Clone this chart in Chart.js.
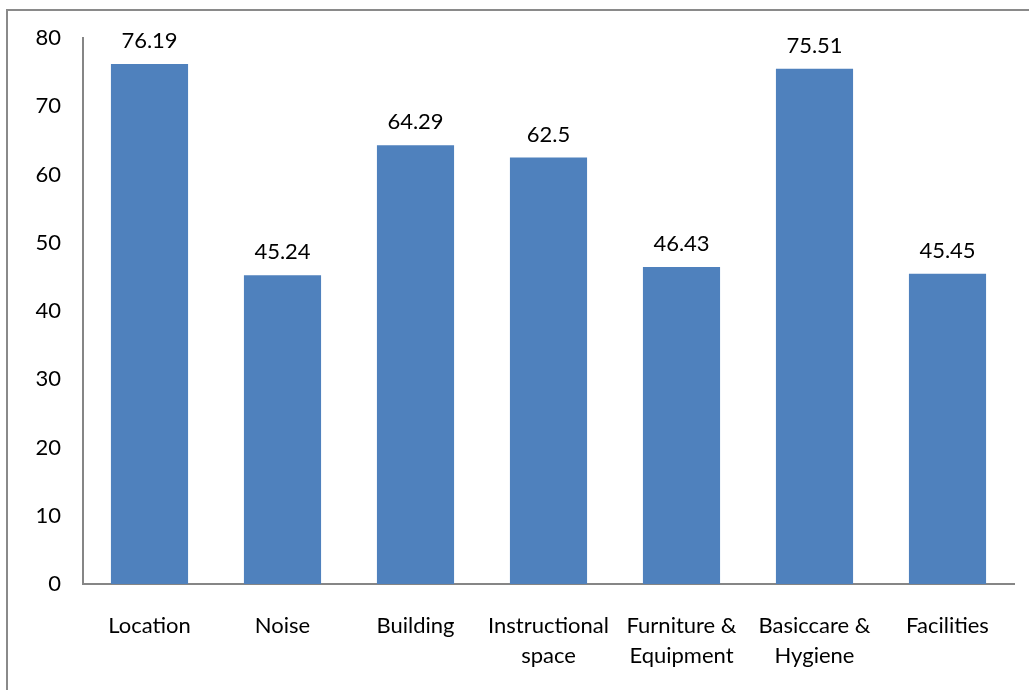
<!DOCTYPE html>
<html>
<head>
<meta charset="utf-8">
<script src="https://cdn.jsdelivr.net/npm/chart.js@4"></script>
<style>
  html, body { margin: 0; padding: 0; background: #fff; overflow: hidden; }
  #wrap { position: relative; width: 1029px; height: 690px; }
  #frame { position: absolute; left: 6px; top: 9px; width: 1100px; height: 800px;
           border: 2px solid #8a8a8a; box-sizing: border-box; }
  canvas { position: absolute; left: 0; top: 0; }
</style>
</head>
<body>
<div id="wrap">
  <div id="frame"></div>
  <canvas id="facilityChart" width="1029" height="690"></canvas>
</div>
<script>
const categories = ['Location', 'Noise', 'Building', ['Instructional', 'space'],
                    ['Furniture &', 'Equipment'], ['Basiccare &', 'Hygiene'], 'Facilities'];
const scores = [76.19, 45.24, 64.29, 62.5, 46.43, 75.51, 45.45];
const yTicks = [0, 10, 20, 30, 40, 50, 60, 70, 80];

const FONT = 'Lato, "Open Sans", sans-serif';
const FONT_SIZE = 22;

// value labels above each bar
const valueLabels = {
    id: 'valueLabels',
    afterDatasetsDraw(chart) {
        const ctx = chart.ctx;
        const meta = chart.getDatasetMeta(0);
        ctx.save();
        ctx.font = FONT_SIZE + 'px ' + FONT;
        ctx.fillStyle = '#000';
        ctx.textAlign = 'center';
        ctx.textBaseline = 'middle';
        meta.data.forEach(function (bar, i) {
            ctx.fillText(String(scores[i]), bar.x, bar.y - 23);
        });
        ctx.restore();
    }
};

document.addEventListener("DOMContentLoaded", function () {
    const ctx = document.getElementById('facilityChart').getContext('2d');

    new Chart(ctx, {
        type: 'bar',
        data: {
            labels: categories,
            datasets: [{
                data: scores,
                backgroundColor: '#4f81bd',
                borderWidth: 0,
                barPercentage: 0.58,
                categoryPercentage: 1
            }]
        },
        options: {
            responsive: false,
            animation: false,
            layout: { padding: { left: 0, right: 15, top: 38, bottom: 0 } },
            plugins: {
                legend: { display: false },
                tooltip: { enabled: false }
            },
            scales: {
                y: {
                    min: 0,
                    max: 80,
                    afterBuildTicks(axis) {
                        axis.ticks = yTicks.map(v => ({ value: v }));
                    },
                    afterFit(axis) { axis.width = 83; },
                    grid: { display: false, drawTicks: false },
                    border: { color: '#868686', width: 2 },
                    ticks: {
                        color: '#000',
                        padding: 22,
                        font: { family: FONT, size: FONT_SIZE }
                    }
                },
                x: {
                    afterFit(axis) { axis.height = 690 - 584; },
                    grid: { display: false, drawTicks: false },
                    border: { color: '#868686', width: 2 },
                    ticks: {
                        color: '#000',
                        padding: 27,
                        maxRotation: 0,
                        autoSkip: false,
                        font: { family: FONT, size: FONT_SIZE, lineHeight: 1.36 }
                    }
                }
            }
        },
        plugins: [valueLabels]
    });
});
</script>
</body>
</html>
